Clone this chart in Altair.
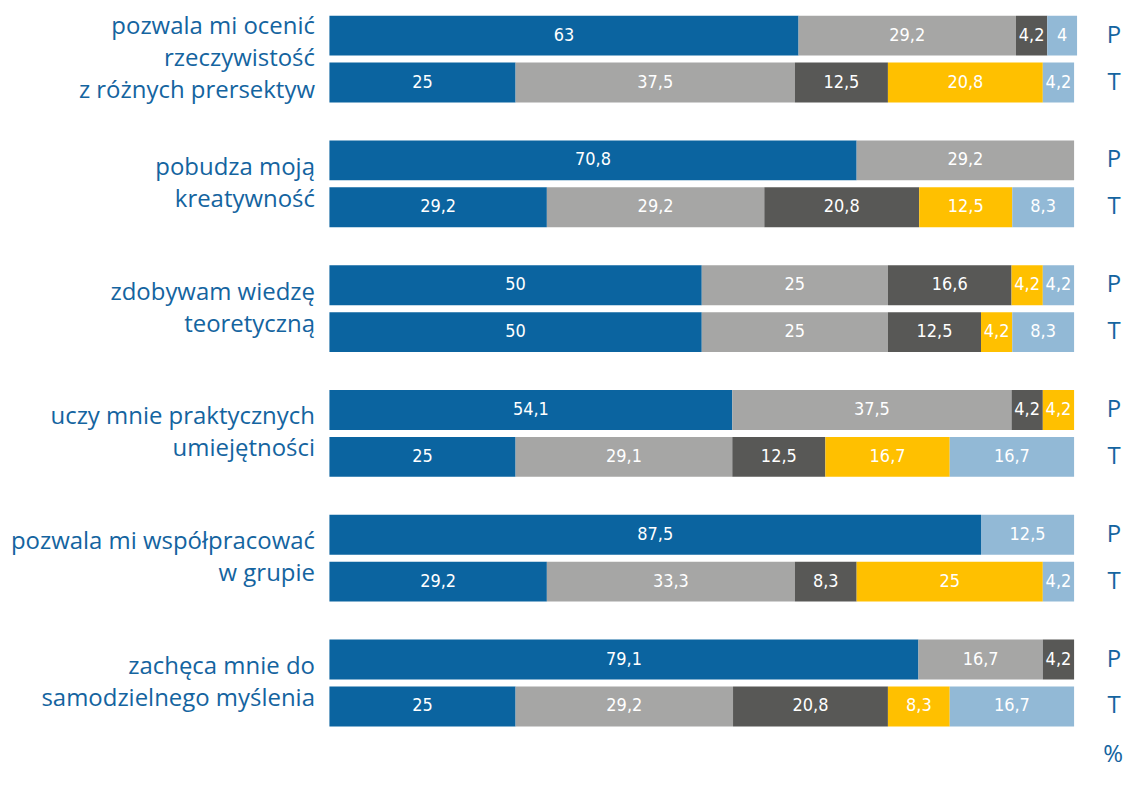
import altair as alt
import pandas as pd

categories = [
    "pozwala mi ocenić\nrzeczywistość\nz różnych prersektyw",
    "pobudza moją\nkreatywność",
    "zdobywam wiedzę\nteoretyczną",
    "uczy mnie praktycznych\numiejętności",
    "pozwala mi współpracować\nw grupie",
    "zachęca mnie do\nsamodzielnego myślenia",
]
series = ["P", "T"]
levels = ["l1", "l2", "l3", "l4", "l5"]
colors = ["#0b64a0", "#a6a6a5", "#585856", "#ffc000", "#92b9d6"]

# values per category: [P values], [T values] (levels l1..l5)
values_P = [
    [63, 29.2, 4.2, 0, 4],
    [70.8, 29.2, 0, 0, 0],
    [50, 25, 16.6, 4.2, 4.2],
    [54.1, 37.5, 4.2, 4.2, 0],
    [87.5, 0, 0, 0, 12.5],
    [79.1, 16.7, 4.2, 0, 0],
]
values_T = [
    [25, 37.5, 12.5, 20.8, 4.2],
    [29.2, 29.2, 20.8, 12.5, 8.3],
    [50, 25, 12.5, 4.2, 8.3],
    [25, 29.1, 12.5, 16.7, 16.7],
    [29.2, 33.3, 8.3, 25, 4.2],
    [25, 29.2, 20.8, 8.3, 16.7],
]

rows = []
for ci, cat in enumerate(categories):
    for s, vals in (("P", values_P[ci]), ("T", values_T[ci])):
        for li, v in enumerate(vals):
            if v > 0:
                rows.append({
                    "cat": cat, "series": s, "level": levels[li], "order": li,
                    "value": v, "label": "{:g}".format(v).replace(".", ","),
                })
df = pd.DataFrame(rows)

side = pd.DataFrame([{"cat": c, "series": s} for c in categories for s in series])

BLUE_TXT = "#1464a0"
W, H = 746, 712
yenc = alt.Y("cat:N", sort=categories,
             scale=alt.Scale(paddingInner=0.304, paddingOuter=0),
             axis=alt.Axis(title=None, domain=False, ticks=False, grid=False,
                           labelExpr="split(datum.value, '\\n')",
                           labelFont="Open Sans", labelFontSize=24,
                           labelColor=BLUE_TXT, labelPadding=15,
                           labelLineHeight=32, labelAlign="right",
                           labelBaseline="middle", labelLimit=400,
                           labelOffset=alt.ExprRef(
                               expr="-(length(split(datum.value, '\\n')) - 1) * 16")))
yoff = alt.YOffset("series:N", sort=series,
                   scale=alt.Scale(paddingInner=0.149, paddingOuter=0))

base = alt.Chart(df).transform_stack(
    stack="value", as_=["x0", "x1"], groupby=["cat", "series"],
    sort=[alt.SortField("order", "ascending")]
).transform_calculate(mid="(datum.x0 + datum.x1) / 2")

xscale = alt.Scale(domain=[0, 100], nice=False, zero=True)

bars = base.mark_bar(size=40).encode(
    y=yenc, yOffset=yoff,
    x=alt.X("x0:Q", scale=xscale, axis=None),
    x2="x1:Q",
    color=alt.Color("level:N", scale=alt.Scale(domain=levels, range=colors), legend=None),
)

texts = base.mark_text(color="white",
                       font="'DejaVu Sans Condensed', 'Roboto Condensed', 'Arial Narrow', Roboto",
                       fontSize=18, baseline="middle", align="center").encode(
    y=alt.Y("cat:N", sort=categories), yOffset=yoff,
    x=alt.X("mid:Q", scale=xscale),
    text="label:N",
)

pt = alt.Chart(side).mark_text(color=BLUE_TXT, font="Open Sans", fontSize=24,
                               baseline="middle", align="center").encode(
    y=alt.Y("cat:N", sort=categories), yOffset=yoff,
    x=alt.value(786),
    text="series:N",
)

pct = alt.Chart(pd.DataFrame({"t": ["%"]})).mark_text(
    color=BLUE_TXT, font="Open Sans", fontSize=24, baseline="alphabetic", align="center"
).encode(x=alt.value(785), y=alt.value(748), text="t:N")

chart = alt.layer(bars, texts, pt, pct).properties(
    width=W, height=H,
    autosize=alt.AutoSizeParams(type="none"),
    padding={"left": 322, "top": 7, "right": 50, "bottom": 45},
).configure(background="white").configure_view(stroke=None, strokeWidth=0)

chart.save("out.html", embed_options={"renderer": "svg", "actions": False})
